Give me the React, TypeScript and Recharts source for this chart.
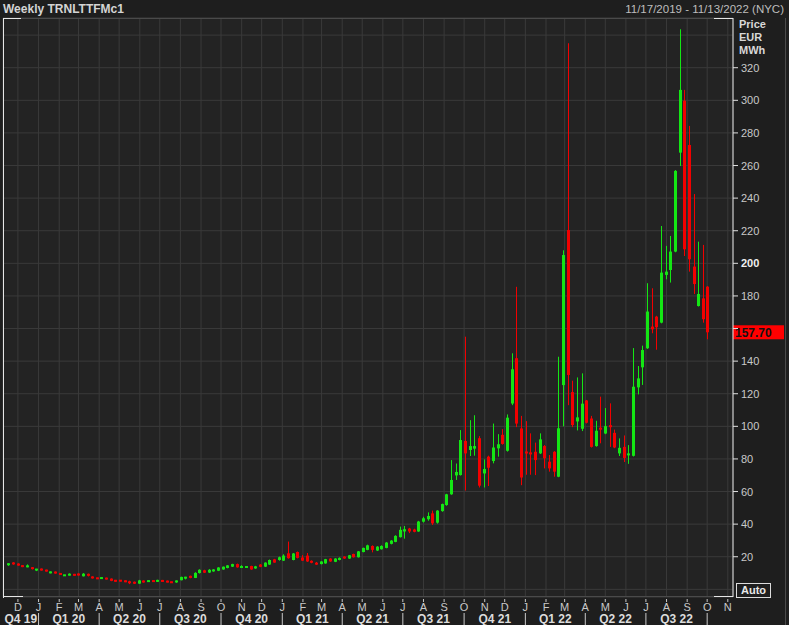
import React from "react";
import { ComposedChart, Bar, XAxis, YAxis, CartesianGrid, ReferenceLine } from "recharts";

// weekly candles, week 0 = 11/17/2019
const opens = [
  15.0, 16.5, 15.8, 14.8, 13.6, 13.6, 11.8, 12.6, 12.0, 10.2,
  10.8, 9.8, 8.5, 8.6, 9.3, 9.6, 8.0, 9.2, 7.8, 7.0,
  6.6, 7.0, 6.6, 5.6, 5.6, 5.4, 4.9, 4.6, 3.5, 5.3,
  4.7, 5.4, 4.6, 5.6, 5.2, 4.6, 4.4, 5.6, 6.8, 8.3,
  7.0, 10.0, 11.7, 10.3, 11.0, 11.4, 12.2, 13.1, 13.9, 15.5,
  13.5, 13.3, 14.3, 12.8, 15.2, 13.9, 15.2, 18.4, 18.0, 17.6,
  22.1, 18.0, 22.9, 19.5, 20.7, 17.4, 16.3, 15.5, 15.9, 18.9,
  16.9, 18.0, 20.1, 18.9, 21.7, 19.7, 22.9, 24.2, 26.6, 23.8,
  24.6, 25.4, 27.9, 29.1, 32.0, 35.5, 37.3, 36.7, 35.5, 41.5,
  43.0, 46.6, 40.9, 48.0, 51.7, 58.3, 69.9, 70.1, 91.0, 85.5,
  86.3, 92.7, 71.1, 81.4, 78.7, 86.5, 94.8, 85.0, 114.0, 141.8,
  98.7, 84.5, 83.8, 84.4, 83.4, 87.9, 78.3, 84.4, 69.1, 125.3,
  220.4, 121.0, 103.0, 98.5, 115.9, 104.8, 87.9, 99.1, 95.6, 100.6,
  96.0, 83.4, 87.4, 82.4, 81.9, 123.9, 136.2, 147.9, 161.2, 167.3,
  163.6, 192.9, 195.9, 207.2, 267.9, 299.8, 272.6, 198.0, 173.8, 178.5, 185.7,
];
const highs = [
  16.1, 16.7, 16.0, 14.9, 15.3, 13.7, 12.6, 12.8, 12.1, 11.0,
  11.0, 10.0, 8.9, 9.8, 9.5, 9.8, 10.0, 9.7, 8.0, 7.2,
  7.4, 7.2, 6.7, 5.8, 5.7, 5.5, 5.3, 4.8, 5.8, 5.5,
  5.5, 5.6, 5.9, 5.8, 5.4, 4.8, 5.5, 7.8, 7.7, 8.4,
  10.5, 12.3, 12.0, 12.4, 12.4, 13.6, 14.0, 14.9, 15.7, 15.8,
  14.8, 14.1, 14.5, 14.4, 15.5, 16.6, 18.3, 18.7, 20.1, 21.5,
  29.3, 22.3, 23.2, 21.0, 22.3, 17.8, 16.8, 17.3, 18.7, 19.1,
  19.1, 19.6, 20.3, 21.1, 21.9, 23.5, 25.6, 27.4, 27.0, 26.5,
  27.0, 29.0, 30.2, 33.2, 38.5, 38.9, 37.7, 37.2, 42.0, 44.5,
  47.2, 48.3, 48.6, 52.6, 58.6, 79.3, 77.2, 97.7, 155.0, 103.8,
  106.8, 94.0, 79.7, 82.0, 101.7, 95.2, 98.3, 107.3, 144.8, 185.6,
  106.4, 103.2, 95.7, 90.0, 95.7, 88.5, 82.4, 84.8, 142.7, 208.0,
  335.0, 128.0, 130.0, 132.5, 116.2, 106.4, 103.4, 118.2, 111.2, 114.1,
  98.0, 92.6, 94.4, 88.5, 148.0, 137.0, 149.5, 187.8, 184.7, 167.8,
  222.9, 210.7, 216.8, 257.2, 343.6, 306.4, 284.3, 242.5, 213.3, 211.3, 186.0,
];
const lows = [
  14.4, 15.1, 14.5, 13.6, 13.5, 12.2, 11.2, 11.5, 10.9, 9.8,
  9.6, 8.9, 8.3, 8.5, 8.4, 8.4, 7.9, 7.9, 6.6, 6.3,
  6.5, 6.0, 5.0, 4.7, 4.9, 4.4, 3.2, 3.3, 3.4, 4.1,
  4.5, 4.6, 4.5, 4.6, 4.2, 3.9, 4.0, 5.5, 6.1, 6.8,
  6.9, 9.7, 10.0, 10.0, 10.8, 11.2, 12.0, 12.9, 13.7, 13.3,
  13.3, 13.1, 12.0, 12.6, 13.6, 13.7, 15.0, 16.3, 17.6, 17.4,
  18.8, 17.8, 19.0, 17.4, 16.8, 16.0, 15.0, 15.3, 15.7, 16.9,
  16.7, 17.8, 18.7, 18.7, 19.5, 19.5, 22.7, 24.0, 22.7, 23.5,
  24.4, 25.2, 27.6, 28.9, 31.8, 31.1, 34.5, 35.0, 35.3, 41.0,
  42.1, 39.5, 40.3, 47.6, 51.3, 58.0, 67.1, 69.8, 60.6, 81.8,
  82.0, 62.5, 62.5, 63.4, 77.3, 81.4, 88.8, 84.5, 113.0, 99.5,
  63.9, 70.3, 70.3, 70.1, 83.0, 74.2, 72.2, 69.1, 68.8, 100.0,
  113.0, 99.5, 97.5, 97.1, 101.8, 87.0, 87.5, 89.6, 95.2, 87.4,
  86.6, 81.8, 78.1, 77.0, 81.5, 119.6, 125.4, 147.5, 157.1, 147.0,
  163.2, 190.2, 188.2, 206.8, 259.7, 204.5, 194.9, 181.2, 173.5, 163.6, 153.4,
];
const closes = [
  15.8, 15.3, 14.6, 13.7, 14.6, 12.4, 12.4, 11.7, 11.0, 10.6,
  9.8, 9.1, 8.7, 9.4, 8.5, 8.6, 9.6, 8.6, 6.8, 6.5,
  7.2, 6.2, 5.2, 4.9, 5.0, 4.5, 3.8, 3.5, 5.5, 4.3,
  5.4, 4.7, 5.8, 4.7, 4.3, 4.1, 5.3, 7.6, 7.5, 7.0,
  10.1, 12.0, 10.2, 12.0, 12.2, 13.4, 13.9, 14.7, 15.5, 13.5,
  13.9, 14.1, 12.2, 14.1, 13.8, 16.4, 18.0, 16.4, 19.7, 20.7,
  19.1, 22.0, 19.3, 17.6, 17.1, 16.4, 15.2, 17.1, 18.5, 17.1,
  18.9, 19.3, 18.9, 20.9, 19.7, 23.3, 25.4, 27.0, 24.2, 26.2,
  26.6, 28.7, 29.9, 32.8, 36.5, 36.9, 35.5, 35.3, 41.6, 43.6,
  45.0, 40.5, 48.3, 52.3, 58.3, 67.1, 72.0, 91.6, 83.4, 87.9,
  87.9, 63.6, 73.8, 74.6, 87.0, 89.0, 89.2, 105.3, 135.0, 101.7,
  68.6, 83.4, 83.0, 79.3, 92.0, 80.4, 74.2, 72.2, 98.8, 205.1,
  131.5, 100.8, 105.5, 113.9, 102.2, 87.4, 97.3, 98.0, 100.1, 99.6,
  87.0, 86.8, 80.6, 83.2, 124.3, 129.4, 146.8, 170.4, 159.5, 160.8,
  194.3, 194.9, 207.2, 256.7, 306.4, 208.6, 202.5, 187.3, 181.2, 165.7, 157.7,
];

// month letters Dec 2019 .. Nov 2022
const monthLetters = [
  "D",
  "J", "F", "M", "A", "M", "J", "J", "A", "S", "O", "N", "D",
  "J", "F", "M", "A", "M", "J", "J", "A", "S", "O", "N", "D",
  "J", "F", "M", "A", "M", "J", "J", "A", "S", "O", "N",
];
const quarterLabels = ["Q4 19", "Q1 20", "Q2 20", "Q3 20", "Q4 20", "Q1 21", "Q2 21", "Q3 21", "Q4 21", "Q1 22", "Q2 22", "Q3 22"];
const priceTicks = [0, 20, 40, 60, 80, 100, 120, 140, 160, 180, 200, 220, 240, 260, 280, 300, 320, 340];

const GREEN = "#14e614";
const RED = "#f20000";
const GRID = "#3a3a3a";
const TEXT = "#c9c9c9";
const FONT = "'Liberation Sans', Arial, sans-serif";

const START = Date.UTC(2019, 10, 17);
const WEEK_MS = 7 * 24 * 3600 * 1000;
const weekOf = (y: number, m: number) => (Date.UTC(y, m, 1) - START) / WEEK_MS;

const X_MIN = -1.2;
const X_MAX = 155.4;

const data = opens.map((o, i) => ({
  week: i,
  open: o,
  high: highs[i],
  low: lows[i],
  close: closes[i],
}));

const monthTicks = monthLetters.map((_, i) => weekOf(2019, 11 + i));
const quarterStarts = quarterLabels.map((_, i) => (i === 0 ? X_MIN : weekOf(2020, (i - 1) * 3)));
const quarterTicks = quarterStarts.map((s, i) => (s + weekOf(2020, i * 3)) / 2);

const lastClose = closes[closes.length - 1];

const Candle = (props: any) => {
  const { x, y, width, height, payload } = props;
  if (!payload || height == null || isNaN(y)) return null;
  const { open, close, high, low } = payload;
  const k = height / (high - low);
  const py = (v: number) => y + (high - v) * k;
  const color = close >= open ? GREEN : RED;
  const cx = Math.floor(x + width / 2);
  const top = py(Math.max(open, close));
  const bot = py(Math.min(open, close));
  const bh = Math.max(2, bot - top);
  const by = bot - top < 2 ? (top + bot) / 2 - 1 : top;
  return (
    <g>
      <rect x={cx} y={y} width={1} height={Math.max(1, height)} fill={color} />
      <rect x={cx - 1} y={by} width={3} height={bh} fill={color} />
    </g>
  );
};

const MonthTick = (props: any) => {
  const { x, y, index } = props;
  const month = (11 + index) % 12;
  return (
    <g>
      <line x1={x} x2={x} y1={y + 2} y2={y + 5} stroke={TEXT} />
      <text x={x} y={y + 14} textAnchor="middle" fill={TEXT} fontSize={11} fontFamily={FONT}>
        {monthLetters[index]}
      </text>
      {month % 3 === 0 && <line x1={x} x2={x} y1={y + 16} y2={y + 28} stroke={TEXT} />}
    </g>
  );
};

const QuarterTick = (props: any) => {
  const { x, y, index } = props;
  return (
    <text x={x} y={y + 12} textAnchor="middle" fill="#dcdcdc" fontSize={12} fontWeight="bold" fontFamily={FONT}>
      {quarterLabels[index]}
    </text>
  );
};

const PriceTick = (props: any) => {
  const { x, y, payload } = props;
  const v = payload.value;
  if (v === 0 || v === 340) return <g />;
  // the last-price box sits over this label
  const hidden = Math.abs(v - lastClose) < 6;
  return (
    <g>
      <line x1={x} x2={x + 5} y1={y} y2={y} stroke="#e0e0e0" />
      {!hidden && (
        <text
          x={x + 8}
          y={y + 4}
          fill={v === 200 ? "#f0f0f0" : TEXT}
          fontSize={11}
          fontWeight={v === 200 ? "bold" : "normal"}
          fontFamily={FONT}
        >
          {v}
        </text>
      )}
    </g>
  );
};

const LastPrice = (props: any) => {
  const { viewBox } = props;
  const x = viewBox.x + viewBox.width;
  return (
    <g>
      <rect x={x} y={viewBox.y - 7} width={51} height={14} fill="#ff0000" />
      <text x={x + 2} y={viewBox.y + 4.5} fill="#111" fontSize={12} fontWeight="bold" fontFamily={FONT}>
        {lastClose.toFixed(2)}
      </text>
    </g>
  );
};

const abs = (s: React.CSSProperties): React.CSSProperties => ({ position: "absolute", ...s });

export default function App() {
  return (
    <div style={abs({ left: 0, top: 0, width: 789, height: 625, background: "#1e1e1e", overflow: "hidden", fontFamily: FONT })}>
      <ComposedChart width={789} height={625} data={data} margin={{ top: 18, right: 0, bottom: 0, left: 3 }}>
        <CartesianGrid stroke={GRID} fill="#232323" />
        <XAxis
          dataKey="week"
          type="number"
          domain={[X_MIN, X_MAX]}
          allowDataOverflow
          ticks={monthTicks}
          interval={0}
          height={14}
          tickSize={0}
          tickMargin={0}
          axisLine={false}
          tick={<MonthTick />}
        />
        <XAxis
          xAxisId="q"
          dataKey="week"
          type="number"
          domain={[X_MIN, X_MAX]}
          allowDataOverflow
          ticks={quarterTicks}
          interval={0}
          height={14}
          tickSize={0}
          tickMargin={0}
          axisLine={false}
          tick={<QuarterTick />}
        />
        <YAxis
          orientation="right"
          width={56}
          domain={[-4.7, 350.5]}
          allowDataOverflow
          ticks={priceTicks}
          interval={0}
          tickSize={0}
          tickMargin={0}
          axisLine={{ stroke: "#e6e6e6" }}
          tick={<PriceTick />}
        />
        <Bar dataKey={(d: any) => [d.low, d.high]} barSize={3} shape={<Candle />} isAnimationActive={false} />
        <ReferenceLine y={lastClose} stroke="none" label={<LastPrice />} />
      </ComposedChart>

      {/* title bar */}
      <div style={abs({ left: 3, top: 2, color: "#d4d4d4", fontSize: 12, fontWeight: "bold" })}>Weekly TRNLTTFMc1</div>
      <div style={abs({ right: 5, top: 3, color: "#bdbdbd", fontSize: 11.5 })}>11/17/2019 - 11/13/2022 (NYC)</div>

      {/* plot frame */}
      <div style={abs({ left: 3, top: 18, width: 730, height: 579, borderTop: "1px solid #4a4a4a", borderBottom: "1px solid #4a4a4a", boxSizing: "border-box" })} />
      <div style={abs({ left: 3, top: 18, width: 1, height: 580, background: "#e6e6e6" })} />
      <div style={abs({ left: 3, top: 18, width: 18, height: 1, background: "#e6e6e6" })} />
      <div style={abs({ left: 3, top: 596, width: 20, height: 1, background: "#e6e6e6" })} />
      <div style={abs({ left: 714, top: 18, width: 19, height: 1, background: "#e6e6e6" })} />
      <div style={abs({ left: 714, top: 596, width: 19, height: 1, background: "#e6e6e6" })} />
      <div style={abs({ left: 785, top: 18, width: 1, height: 607, background: "#4a4a4a" })} />

      {/* axis header */}
      <div style={abs({ left: 739, top: 18, color: "#d8d8d8", fontSize: 11, fontWeight: "bold", lineHeight: "13px" })}>
        Price
        <br />
        EUR
        <br />
        MWh
      </div>
      <div
        style={abs({
          left: 736,
          top: 583,
          width: 33,
          height: 13,
          border: "1px solid #dcdcdc",
          color: "#e8e8e8",
          fontSize: 11,
          fontWeight: "bold",
          lineHeight: "13px",
          textAlign: "center",
        })}
      >
        Auto
      </div>
    </div>
  );
}
